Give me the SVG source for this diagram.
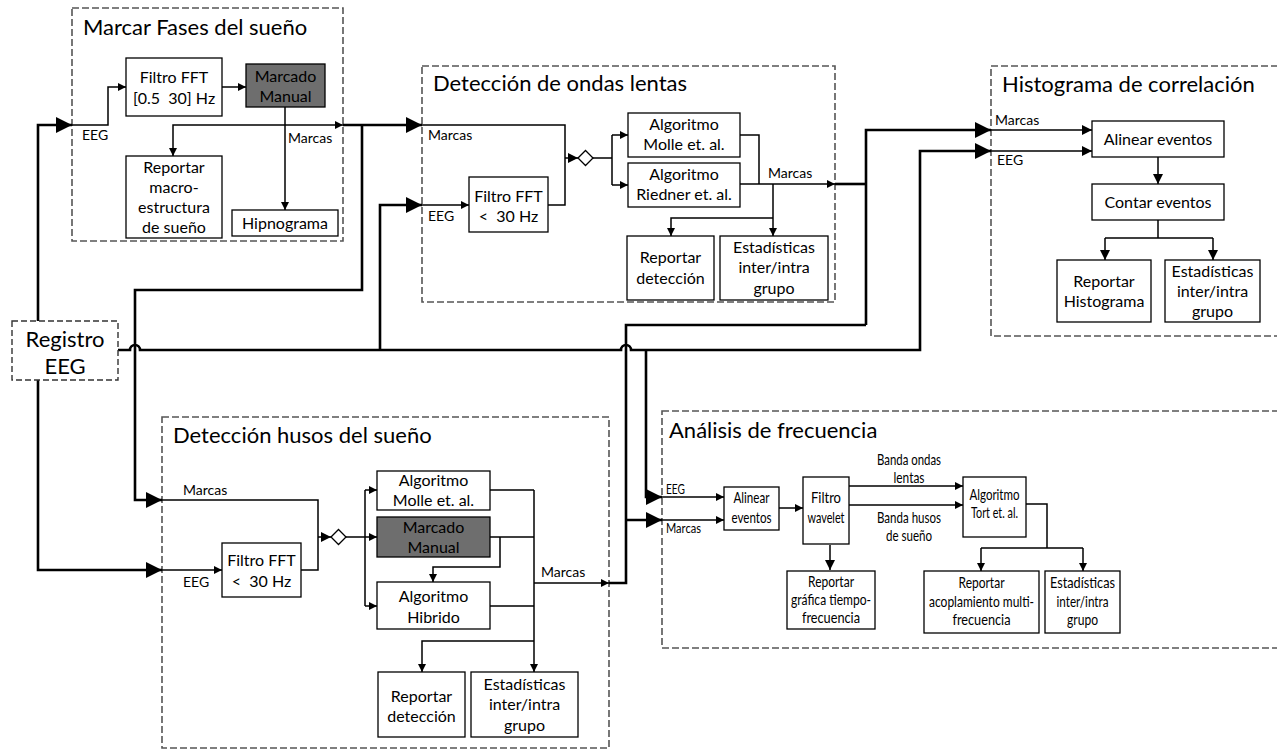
<svg xmlns="http://www.w3.org/2000/svg" width="1277" height="752" viewBox="0 0 1277 752">
<defs>
<style>
text{font-family:Lato,"Open Sans","Liberation Sans",sans-serif;fill:#000}
.ttl{font-size:22px}
.bt{font-size:16px;text-anchor:middle}
.st{font-size:15px;text-anchor:middle}
.lb{font-size:14px}
.ls{font-size:13px}
.c{fill:none;stroke:#555;stroke-width:1.6;stroke-dasharray:7 3}
.b{fill:#fff;stroke:#000;stroke-width:1.3}
.g{fill:#6e6e6e;stroke:#000;stroke-width:1.3}
.T{fill:none;stroke:#000;stroke-width:2.6}
.l{fill:none;stroke:#000;stroke-width:1.5}
.ab{marker-end:url(#ab)}
.as{marker-end:url(#as)}
.am{marker-end:url(#am)}
</style>
<marker id="ab" viewBox="0 0 16 16" refX="16" refY="8" markerWidth="16" markerHeight="16" markerUnits="userSpaceOnUse" orient="auto"><path d="M0,0 L16,8 L0,16 z"/></marker>
<marker id="am" viewBox="0 0 10 10" refX="10" refY="5" markerWidth="10" markerHeight="10" markerUnits="userSpaceOnUse" orient="auto"><path d="M0,0 L10,5 L0,10 z"/></marker>
<marker id="as" viewBox="0 0 8 8" refX="8" refY="4" markerWidth="8" markerHeight="8" markerUnits="userSpaceOnUse" orient="auto"><path d="M0,0 L8,4 L0,8 z"/></marker>
</defs>
<rect width="1277" height="752" fill="#fff"/>

<!-- containers -->
<g id="fases">
<rect class="c" x="72" y="8" width="271" height="233"/>
<text class="ttl" x="83" y="35">Marcar Fases del sueño</text>
</g>
<g id="ondas">
<rect class="c" x="422" y="66" width="413" height="236"/>
<text class="ttl" x="433" y="91">Detección de ondas lentas</text>
</g>
<g id="histo">
<rect class="c" x="991" y="66" width="300" height="270"/>
<text class="ttl" x="1002" y="92">Histograma de correlación</text>
</g>
<g id="husos">
<rect class="c" x="162" y="417" width="447" height="331"/>
<text class="ttl" x="173" y="443">Detección husos del sueño</text>
</g>
<g id="analisis">
<rect class="c" x="662" y="411" width="630" height="237"/>
<text class="ttl" x="669" y="438">Análisis de frecuencia</text>
</g>

<!-- connectors -->
<g id="connectors">
<path class="T ab" d="M38,321 V125 H72"/>
<path class="T ab" d="M38,380 V570 H162"/>
<path class="T ab" d="M118,350 H130 a5,5 0 0 1 10,0 H621 a5,5 0 0 1 10,0 H920 V151 H991"/>
<path class="T ab" d="M380,350 V205 H422"/>
<path class="T ab" d="M343,125 H422"/>
<path class="T ab" d="M362,125 V290 H135 V500 H162"/>
<path class="T ab" d="M646,350 V497 H662"/>
<path class="T" d="M835,184 H866"/>
<path class="T ab" d="M866,325 V130 H991"/>
<path class="T" d="M609,583 H626 V325 H866"/>
<path class="T ab" d="M626,520 H662"/>

<!-- fases internal -->
<path class="l as" d="M72,125 H108 V87 H126"/>
<path class="l as" d="M222,87 H246"/>
<path class="l as" d="M285,107 V210"/>
<path class="l as" d="M285,125 H343"/>
<path class="l as" d="M285,125 H173 V156"/>

<!-- ondas internal -->
<path class="l" d="M422,125 H565 V158"/>
<path class="l as" d="M422,205 H469"/>
<path class="l" d="M548,205 H565 V158"/>
<path class="l am" d="M565,158 H578"/>
<polygon points="578,158 585.5,150.5 593,158 585.5,165.5" fill="#fff" stroke="#000" stroke-width="1.3"/>
<path class="l" d="M593,158 H612 M612,135 V185"/>
<path class="l as" d="M612,135 H628"/>
<path class="l as" d="M612,185 H628"/>
<path class="l" d="M740,135 H759 V184"/>
<path class="l as" d="M740,184 H835"/>
<path class="l as" d="M773,184 V236"/>
<path class="l as" d="M773,218 H671 V236"/>

<!-- histograma internal -->
<path class="l am" d="M991,130 H1092"/>
<path class="l am" d="M991,151 H1092"/>
<path class="l am" d="M1158,157 V184"/>
<path class="l" d="M1158,220 V238 M1105,238 H1213"/>
<path class="l am" d="M1105,238 V260"/>
<path class="l am" d="M1213,238 V260"/>

<!-- husos internal -->
<path class="l" d="M162,500 H318 V537"/>
<path class="l as" d="M162,570 H222"/>
<path class="l" d="M301,570 H318 V537"/>
<path class="l am" d="M318,537 H331"/>
<polygon points="331,537 338.5,529.5 346,537 338.5,544.5" fill="#fff" stroke="#000" stroke-width="1.3"/>
<path class="l" d="M346,537 H365 M365,490 V606"/>
<path class="l as" d="M365,490 H377"/>
<path class="l as" d="M365,537 H377"/>
<path class="l as" d="M365,606 H377"/>
<path class="l" d="M490,490 H534 M490,537 H534 M490,606 H534"/>
<path class="l as" d="M534,490 V672"/>
<path class="l as" d="M500,537 V567 H433 V582"/>
<path class="l as" d="M534,641 H422 V672"/>
<path class="l as" d="M534,583 H609"/>

<!-- analisis internal -->
<path class="l as" d="M662,497 H724"/>
<path class="l as" d="M662,520 H724"/>
<path class="l as" d="M779,508 H803"/>
<path class="l am" d="M830,545 V570"/>
<path class="l as" d="M849,486 H963"/>
<path class="l as" d="M849,505 H963"/>
<path class="l" d="M1026,504 H1047 V548 M981,548 H1083"/>
<path class="l as" d="M981,548 V571"/>
<path class="l as" d="M1083,548 V571"/>
</g>

<!-- connector labels -->
<g id="labels">
<text class="lb" x="82" y="140">EEG</text>
<text class="lb" x="288" y="143">Marcas</text>
<text class="lb" x="428" y="140">Marcas</text>
<text class="lb" x="428" y="221">EEG</text>
<text class="lb" x="768" y="178">Marcas</text>
<text class="lb" x="995" y="125">Marcas</text>
<text class="lb" x="997" y="165">EEG</text>
<text class="lb" x="183" y="495">Marcas</text>
<text class="lb" x="183" y="587">EEG</text>
<text class="lb" x="541" y="577">Marcas</text>
<text class="ls" x="666" y="494" textLength="19" lengthAdjust="spacingAndGlyphs">EEG</text>
<text class="ls" x="666" y="533" textLength="35" lengthAdjust="spacingAndGlyphs">Marcas</text>
<text class="st" x="909" y="465" textLength="64" lengthAdjust="spacingAndGlyphs">Banda ondas</text>
<text class="st" x="909" y="483" textLength="31" lengthAdjust="spacingAndGlyphs">lentas</text>
<text class="st" x="909" y="523" textLength="64" lengthAdjust="spacingAndGlyphs">Banda husos</text>
<text class="st" x="909" y="541" textLength="46" lengthAdjust="spacingAndGlyphs">de sueño</text>
</g>

<!-- nodes -->
<g id="registro">
<rect x="12" y="321" width="106" height="59" fill="#fff" stroke="#333" stroke-width="1.4" stroke-dasharray="6 3"/>
<text class="ttl" x="65" y="347" text-anchor="middle">Registro</text>
<text class="ttl" x="65" y="374" text-anchor="middle">EEG</text>
</g>
<g id="f_filtro">
<rect class="b" x="126" y="58" width="96" height="58"/>
<text class="bt" x="174" y="83">Filtro FFT</text>
<text class="bt" x="174" y="104">[0.5&#160; 30] Hz</text>
</g>
<g id="f_marcado">
<rect class="g" x="246" y="64" width="79" height="43"/>
<text class="bt" x="285.5" y="82">Marcado</text>
<text class="bt" x="285.5" y="102">Manual</text>
</g>
<g id="f_reportar">
<rect class="b" x="126" y="156" width="96" height="82"/>
<text class="bt" x="174" y="173">Reportar</text>
<text class="bt" x="174" y="193">macro-</text>
<text class="bt" x="174" y="213">estructura</text>
<text class="bt" x="174" y="233">de sueño</text>
</g>
<g id="f_hipno">
<rect class="b" x="232" y="210" width="106" height="26"/>
<text class="bt" x="285" y="229">Hipnograma</text>
</g>

<g id="o_filtro">
<rect class="b" x="469" y="177" width="79" height="55"/>
<text class="bt" x="508.5" y="202">Filtro FFT</text>
<text class="bt" x="508.5" y="222">&lt;&#160; 30 Hz</text>
</g>
<g id="o_molle">
<rect class="b" x="628" y="113" width="112" height="44"/>
<text class="bt" x="684" y="130">Algoritmo</text>
<text class="bt" x="684" y="150">Molle et. al.</text>
</g>
<g id="o_riedner">
<rect class="b" x="628" y="163" width="112" height="44"/>
<text class="bt" x="684" y="180">Algoritmo</text>
<text class="bt" x="684" y="200">Riedner et. al.</text>
</g>
<g id="o_reportar">
<rect class="b" x="627" y="236" width="87" height="64"/>
<text class="bt" x="670.5" y="263">Reportar</text>
<text class="bt" x="670.5" y="284">detección</text>
</g>
<g id="o_estad">
<rect class="b" x="720" y="236" width="108" height="64"/>
<text class="bt" x="774" y="253">Estadísticas</text>
<text class="bt" x="774" y="273">inter/intra</text>
<text class="bt" x="774" y="294">grupo</text>
</g>

<g id="h_alinear">
<rect class="b" x="1092" y="121" width="132" height="36"/>
<text class="bt" x="1158" y="145">Alinear eventos</text>
</g>
<g id="h_contar">
<rect class="b" x="1092" y="184" width="132" height="36"/>
<text class="bt" x="1158" y="208">Contar eventos</text>
</g>
<g id="h_reportar">
<rect class="b" x="1057" y="260" width="94" height="62"/>
<text class="bt" x="1104" y="287">Reportar</text>
<text class="bt" x="1104" y="307">Histograma</text>
</g>
<g id="h_estad">
<rect class="b" x="1165" y="260" width="95" height="62"/>
<text class="bt" x="1212.5" y="277">Estadísticas</text>
<text class="bt" x="1212.5" y="297">inter/intra</text>
<text class="bt" x="1212.5" y="317">grupo</text>
</g>

<g id="u_filtro">
<rect class="b" x="222" y="543" width="79" height="54"/>
<text class="bt" x="261.5" y="566">Filtro FFT</text>
<text class="bt" x="261.5" y="587">&lt;&#160; 30 Hz</text>
</g>
<g id="u_molle">
<rect class="b" x="377" y="471" width="113" height="39"/>
<text class="bt" x="433.5" y="486">Algoritmo</text>
<text class="bt" x="433.5" y="506">Molle et. al.</text>
</g>
<g id="u_marcado">
<rect class="g" x="377" y="517" width="113" height="40"/>
<text class="bt" x="433.5" y="533">Marcado</text>
<text class="bt" x="433.5" y="553">Manual</text>
</g>
<g id="u_hibrido">
<rect class="b" x="377" y="582" width="113" height="47"/>
<text class="bt" x="433.5" y="602">Algoritmo</text>
<text class="bt" x="433.5" y="623">Hibrido</text>
</g>
<g id="u_reportar">
<rect class="b" x="378" y="672" width="87" height="65"/>
<text class="bt" x="421.5" y="702">Reportar</text>
<text class="bt" x="421.5" y="722">detección</text>
</g>
<g id="u_estad">
<rect class="b" x="471" y="672" width="107" height="65"/>
<text class="bt" x="524.5" y="690">Estadísticas</text>
<text class="bt" x="524.5" y="710">inter/intra</text>
<text class="bt" x="524.5" y="731">grupo</text>
</g>

<g id="a_alinear">
<rect class="b" x="724" y="487" width="55" height="43"/>
<text class="st" x="751.5" y="503" textLength="36" lengthAdjust="spacingAndGlyphs">Alinear</text>
<text class="st" x="751.5" y="523" textLength="40" lengthAdjust="spacingAndGlyphs">eventos</text>
</g>
<g id="a_wavelet">
<rect class="b" x="803" y="477" width="46" height="67"/>
<text class="st" x="826" y="503" textLength="30" lengthAdjust="spacingAndGlyphs">Filtro</text>
<text class="st" x="826" y="523" textLength="37" lengthAdjust="spacingAndGlyphs">wavelet</text>
</g>
<g id="a_tort">
<rect class="b" x="963" y="477" width="63" height="60"/>
<text class="st" x="994.5" y="500" textLength="50" lengthAdjust="spacingAndGlyphs">Algoritmo</text>
<text class="st" x="994.5" y="518" textLength="47" lengthAdjust="spacingAndGlyphs">Tort et. al.</text>
</g>
<g id="a_reportar">
<rect class="b" x="787" y="571" width="88" height="58"/>
<text class="st" x="831" y="587" textLength="46" lengthAdjust="spacingAndGlyphs">Reportar</text>
<text class="st" x="831" y="605" textLength="80" lengthAdjust="spacingAndGlyphs">gráfica tiempo-</text>
<text class="st" x="831" y="623" textLength="58" lengthAdjust="spacingAndGlyphs">frecuencia</text>
</g>
<g id="a_acopl">
<rect class="b" x="924" y="571" width="115" height="62"/>
<text class="st" x="981.5" y="588" textLength="46" lengthAdjust="spacingAndGlyphs">Reportar</text>
<text class="st" x="981.5" y="607" textLength="105" lengthAdjust="spacingAndGlyphs">acoplamiento multi-</text>
<text class="st" x="981.5" y="625" textLength="58" lengthAdjust="spacingAndGlyphs">frecuencia</text>
</g>
<g id="a_estad">
<rect class="b" x="1045" y="571" width="75" height="62"/>
<text class="st" x="1082.5" y="588" textLength="65" lengthAdjust="spacingAndGlyphs">Estadísticas</text>
<text class="st" x="1082.5" y="607" textLength="52" lengthAdjust="spacingAndGlyphs">inter/intra</text>
<text class="st" x="1082.5" y="625" textLength="31" lengthAdjust="spacingAndGlyphs">grupo</text>
</g>
</svg>
